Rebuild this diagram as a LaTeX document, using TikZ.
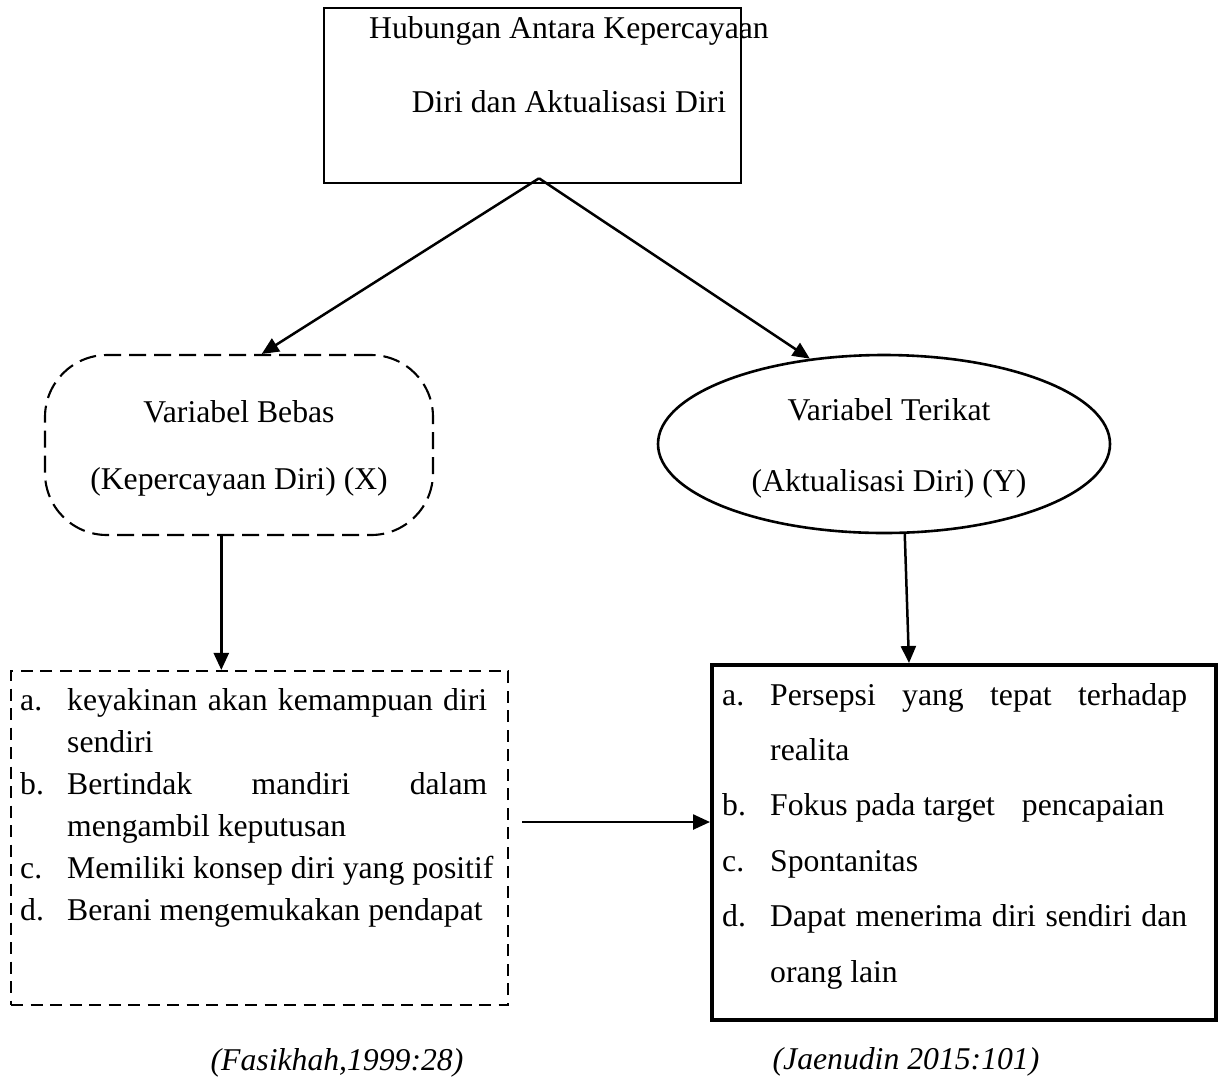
\documentclass[tikz,border=0pt]{standalone}
\usepackage{fontspec}
\setmainfont{Liberation Serif}
\usepackage{graphicx}
\usetikzlibrary{arrows.meta,shapes.geometric,calc}
\begin{document}
\begin{tikzpicture}[x=1pt,y=-1pt,
  every node/.style={inner sep=0pt},
  txt/.style={font=\fontsize{31.7}{38}\selectfont, anchor=base},
  cite/.style={font=\fontsize{31.7}{38}\selectfont\itshape, anchor=base},
  arr/.style={line width=2.5pt, -{Triangle[length=17pt,width=15pt]}},
  topbox/.style={draw, line width=2.6pt, minimum width=417pt, minimum height=175pt},
  xshape/.style={draw, line width=2.1pt, dash pattern=on 17pt off 8pt, rounded corners=62pt, minimum width=388pt, minimum height=180pt},
  yshape/.style={draw, ellipse, line width=2.6pt, minimum width=452pt, minimum height=178pt},
  xlistbox/.style={draw, line width=2.1pt, dash pattern=on 12pt off 7.5pt, minimum width=497pt, minimum height=334pt},
  ylistbox/.style={draw, line width=4pt, minimum width=504pt, minimum height=355pt}
]
\useasboundingbox (0,0) rectangle (1220,1080);

% top box
\node[topbox] (top) at (532.5,95.5) {};
\node[txt] (t1) at (569,38) {Hubungan Antara Kepercayaan};
\node[txt] (t2) at (569,112) {Diri dan Aktualisasi Diri};
\coordinate (apex) at ($(top.south)+(6.5,-6)$);

% variable shapes
\node[xshape] (xbox) at (239,445) {};
\node[txt] (x1) at (239,422) {Variabel Bebas};
\node[txt] (x2) at (239,489) {(Kepercayaan Diri) (X)};

\node[yshape] (ybox) at (884,444) {};
\node[txt] (y1) at (889,420) {Variabel Terikat};
\node[txt] (y2) at (889,491) {(Aktualisasi Diri) (Y)};

% list boxes
\node[xlistbox] (xlist) at (259.5,838) {};
\node[ylistbox] (ylist) at (964,842.5) {};

\node[anchor=base west, font=\fontsize{31.7}{42}\selectfont] (xitems) at (20,710) {%
\begin{tabular}[t]{@{}l@{}l@{}}
\makebox[47pt][l]{a.} & \makebox[420pt][s]{keyakinan akan kemampuan diri}\\
 & sendiri\\
b. & \makebox[420pt][s]{Bertindak mandiri dalam}\\
 & mengambil keputusan\\
c. & Memiliki konsep diri yang positif\\
d. & Berani mengemukakan pendapat
\end{tabular}};

\node[anchor=base west, font=\fontsize{31.7}{55.4}\selectfont] (yitems) at (722,705) {%
\begin{tabular}[t]{@{}l@{}l@{}}
\makebox[48pt][l]{a.} & \makebox[417pt][s]{Persepsi yang tepat terhadap}\\
 & realita\\
b. & Fokus pada target\hspace{27pt}pencapaian\\
c. & Spontanitas\\
d. & \makebox[417pt][s]{Dapat menerima diri sendiri dan}\\
 & orang lain
\end{tabular}};

% citations
\node[cite] (c1) at (337,1070) {(Fasikhah,1999:28)};
\node[cite] (c2) at (906,1069) {(Jaenudin 2015:101)};

% connectors
\draw[arr] (apex) -- (xbox.76);
\draw[arr] (apex) -- (ybox.131);
\draw[arr] (xbox.259) -- (xbox.259 |- xlist.north);
\draw[arr] (ybox.283) -- ($(ylist.north west)+(199,0)$);
\coordinate (hstart) at ($(xlist.east)+(13,-16)$);
\draw[arr] (hstart) -- (hstart -| ylist.west);
\end{tikzpicture}
\end{document}
